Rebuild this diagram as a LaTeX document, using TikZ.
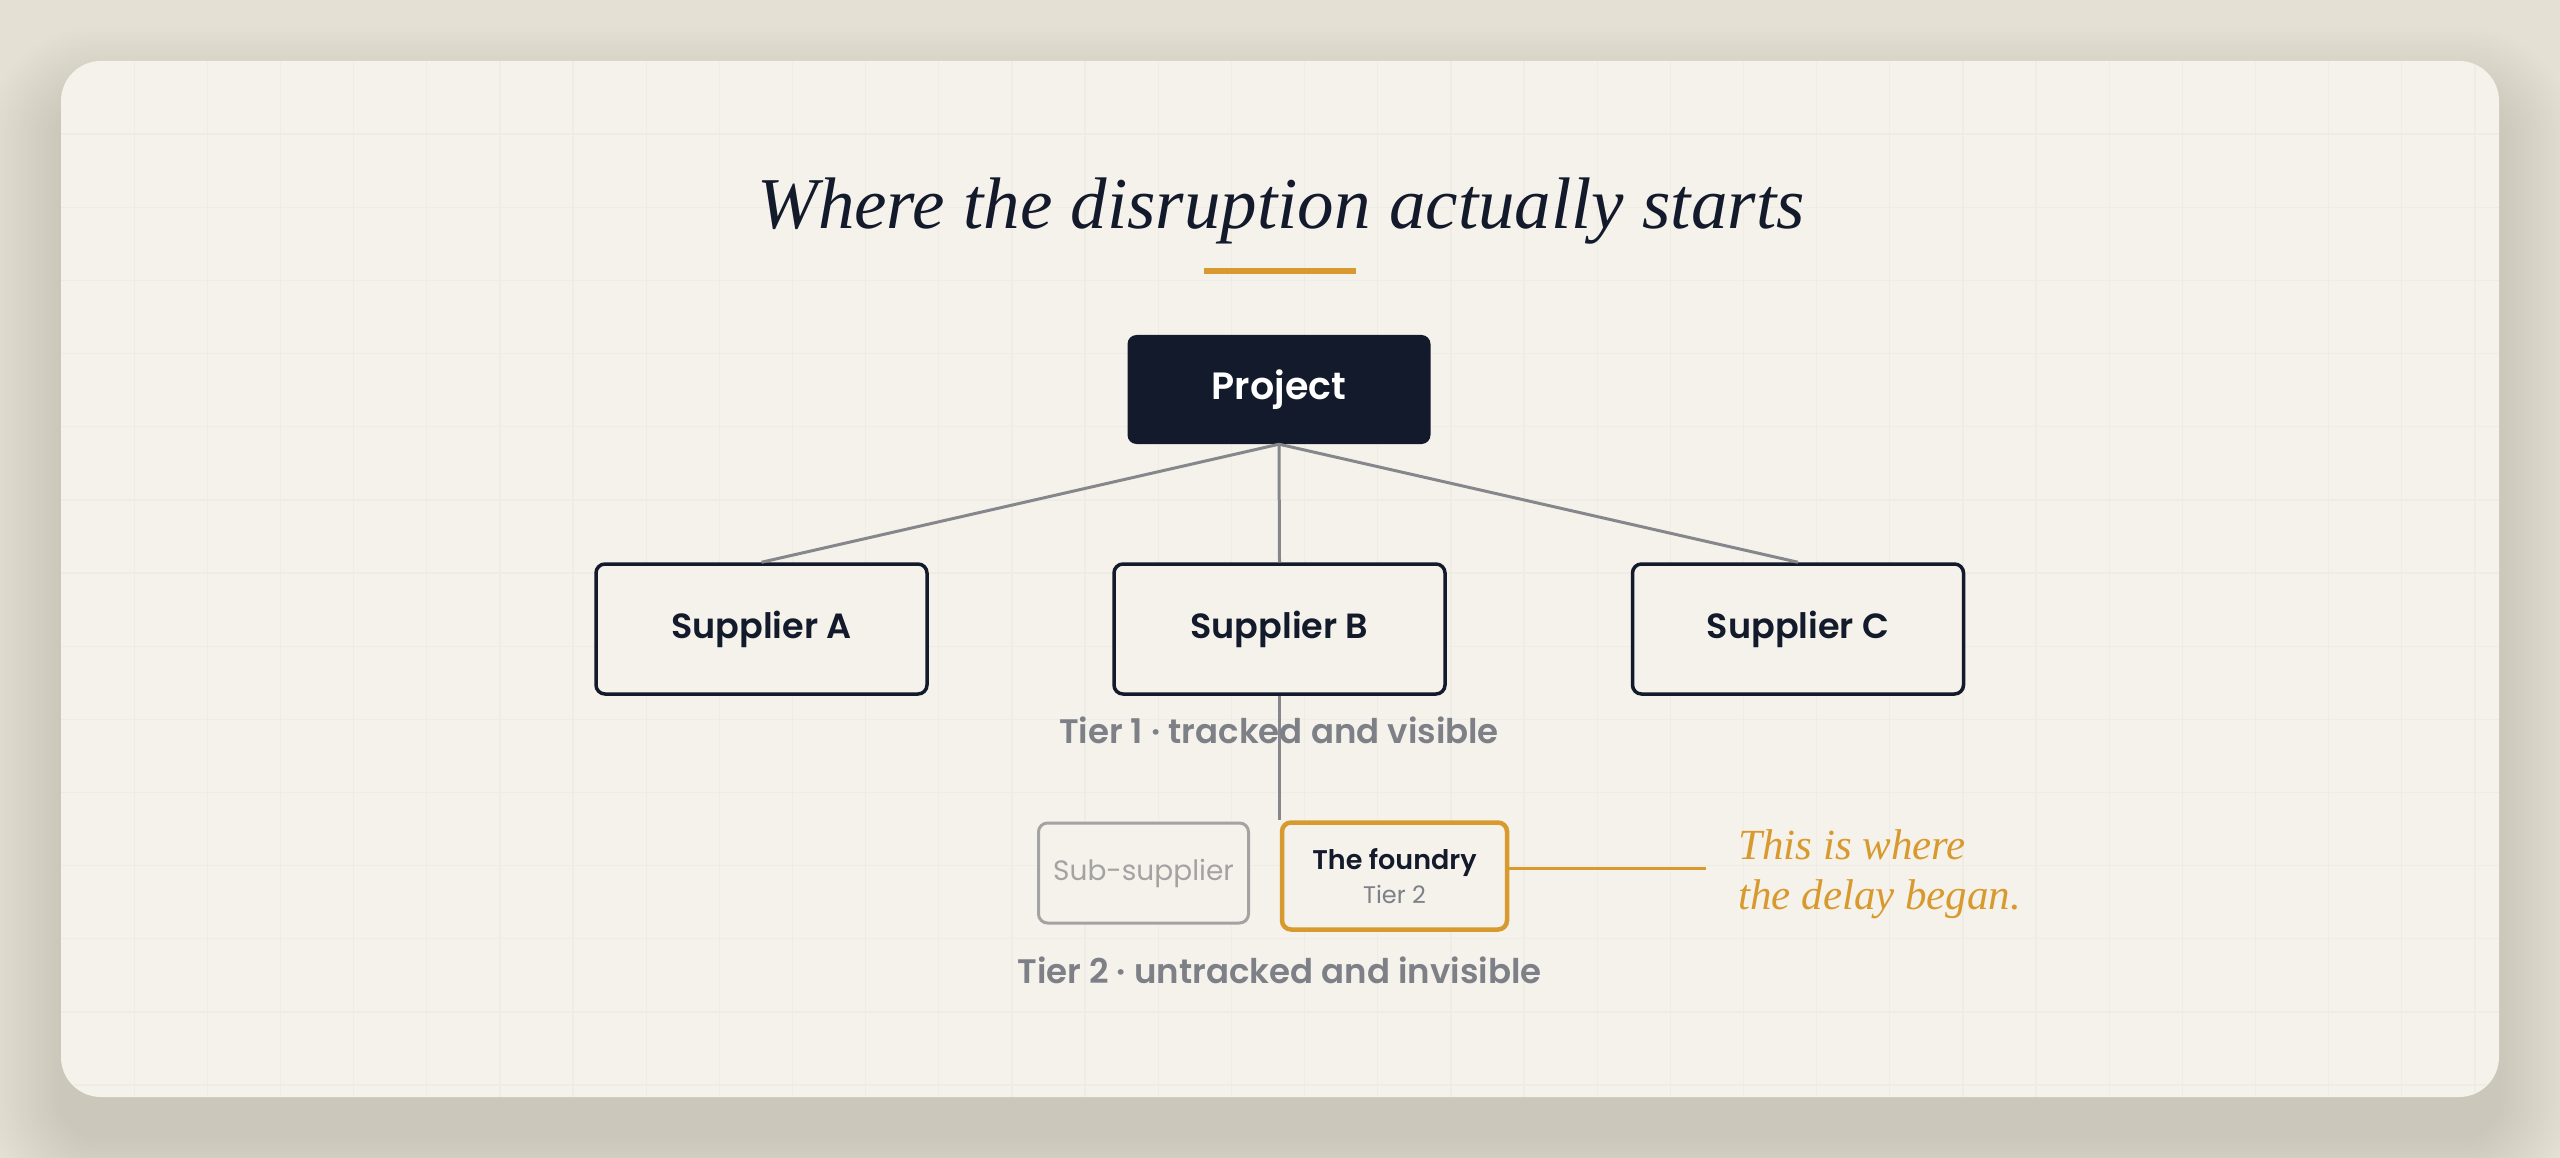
\documentclass[tikz,border=0pt]{standalone}
\usepackage{fontspec}
\setmainfont{Liberation Serif}
\newfontfamily\pop{Poppins}
\newfontfamily\popsb{Poppins SemiBold}
\definecolor{navy}{HTML}{131A2B}
\definecolor{gold}{HTML}{D89A2E}
\definecolor{lineg}{HTML}{86878C}
\definecolor{tierg}{HTML}{7E8088}
\definecolor{subg}{HTML}{A3A3A3}
\definecolor{cardc}{HTML}{F5F2EB}
\definecolor{gridc}{HTML}{EFECE5}
\definecolor{bgc}{HTML}{E4E0D4}
\definecolor{shadc}{HTML}{6E6A60}
\tikzset{
  supbox/.style={draw=navy, line width=3.5pt, rounded corners=9pt, fill=cardc,
    minimum width=331pt, minimum height=130pt, inner sep=0pt, text=navy,
    font=\popsb\fontsize{35}{40}\selectfont},
  projbox/.style={fill=navy, rounded corners=9pt, minimum width=303pt, minimum height=109pt,
    inner sep=0pt, text=white, font=\popsb\fontsize{38}{42}\selectfont},
  tierlbl/.style={text=tierg, font=\popsb\fontsize{34}{40}\selectfont, inner sep=0pt},
  conn/.style={draw=lineg, line width=3pt},
  subbox/.style={draw=subg, line width=3pt, rounded corners=9pt, fill=cardc,
    minimum width=210pt, minimum height=100pt, inner sep=0pt, text=subg,
    font=\pop\fontsize{28}{32}\selectfont},
  foundbox/.style={draw=gold, line width=4.5pt, rounded corners=9pt, fill=cardc,
    minimum width=225pt, minimum height=107pt, inner sep=0pt, align=center},
  gridline/.style={draw=gridc, line width=1.3pt}
}
\begin{document}
\begin{tikzpicture}[x=1pt,y=-1pt]
\useasboundingbox (0,0) rectangle (2560,1158);
\fill[bgc] (0,0) rectangle (2560,1158);
% shadow
\foreach \k in {1,...,25}{
  \pgfmathsetmacro{\r}{40+3*\k}
  \fill[shadc, opacity=0.0085, rounded corners=\r pt]
    ({61-3*\k},{61+40-3*\k}) rectangle ({2499+3*\k},{1097+40+3*\k});
}
% card
\fill[cardc, rounded corners=40pt] (61,61) rectangle (2499,1097);
\begin{scope}
  \clip[rounded corners=40pt] (61,61) rectangle (2499,1097);
  \foreach \i in {1,...,33}{ \draw[gridline] ({61+\i*73.15},61) -- ({61+\i*73.15},1097); }
  \foreach \j in {1,...,14}{ \draw[gridline] (61,{61+\j*73.15}) -- (2499,{61+\j*73.15}); }
\end{scope}
% title
\node[anchor=base, text=navy, inner sep=0pt, font=\itshape\fontsize{73}{80}\selectfont] (title) at (1281,229) {Where the disruption actually starts};
\fill[gold] (1204,268) rectangle (1356,274);
% nodes
\node[projbox] (proj) at (1279,389.5) {Project};
\node[supbox] (sa) at (761.5,629) {Supplier A};
\node[supbox] (sb) at (1279.5,629) {Supplier B};
\node[supbox] (sc) at (1798,629) {Supplier C};
\node[subbox] (sub) at (1143.5,873) {Sub-supplier};
\node[foundbox] (found) at (1394.5,876) {{\popsb\fontsize{27}{30}\selectfont\color{navy}The foundry}\\[8pt]{\pop\fontsize{24}{26}\selectfont\color{tierg}Tier 2}};
\coordinate (lend) at (1706,868);
% connectors
\draw[conn] (proj.south) -- (sa.north);
\draw[conn] (proj.south) -- (sb.north);
\draw[conn] (proj.south) -- (sc.north);
\draw[conn] (sb.south) -- (sb.south |- found.north);
\draw[draw=gold, line width=3pt] (found.east |- lend) -- (lend);
% labels
\node[tierlbl] (t1) at (1279,730) {Tier 1 · tracked and visible};
\node[tierlbl] (t2) at (1279.5,970) {Tier 2 · untracked and invisible};
\node[anchor=north west, inner sep=0pt, text=gold, align=left, font=\itshape\fontsize{43}{50}\selectfont] (note) at (1738,829) {This is where\\the delay began.};
\end{tikzpicture}
\end{document}
